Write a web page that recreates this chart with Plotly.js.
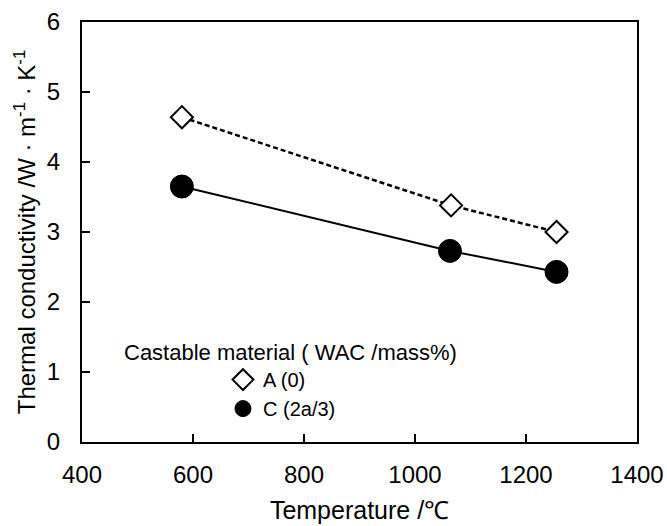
<!DOCTYPE html>
<html>
<head>
<meta charset="utf-8">
<script src="https://cdn.plot.ly/plotly-3.0.1.min.js"></script>
<style>html,body{margin:0;padding:0;background:#fff;}#chart{width:667px;height:526px;}</style>
</head>
<body>
<div id="chart"></div>
<script>
// Data
const tempA = [580, 1065, 1255];
const condA = [4.64, 3.38, 3.00];
const tempC = [580, 1063, 1255];
const condC = [3.65, 2.73, 2.43];
const nameA = 'A (0)';
const nameC = 'C (2a/3)';
const legendTitle = 'Castable material ( WAC /mass%)';
const xTitle = 'Temperature /℃';
const yTitle = 'Thermal conductivity /W · m<sup>-1</sup> · K<sup>-1</sup>';

const FONT = 'Liberation Sans, Arial, sans-serif';

const traces = [
  {x: tempA, y: condA, mode: 'lines', showlegend: false, hoverinfo: 'skip',
   line: {color: '#000', width: 2.5, dash: '5px,3px'}},
  {x: tempC, y: condC, mode: 'lines', showlegend: false, hoverinfo: 'skip',
   line: {color: '#000', width: 2}},
  {x: tempA, y: condA, mode: 'markers', name: nameA,
   marker: {symbol: 'diamond', size: 17, color: '#fff', line: {color: '#000', width: 2}}},
  {x: tempC, y: condC, mode: 'markers', name: nameC,
   marker: {symbol: 'circle', size: 23, color: '#000', line: {color: '#000', width: 1}}}
];

const layout = {
  width: 667, height: 526,
  margin: {l: 82, r: 30, t: 22, b: 84},
  paper_bgcolor: '#fff', plot_bgcolor: '#fff',
  font: {family: FONT, color: '#000', size: 20},
  showlegend: true,
  legend: {x: 0.254, xanchor: 'left', y: 0.195, yanchor: 'top',
           bgcolor: 'rgba(0,0,0,0)', font: {size: 20, family: FONT},
           tracegroupgap: 0, itemsizing: 'trace'},
  annotations: [{text: legendTitle, xref: 'paper', yref: 'paper',
                 x: 0.072, y: 0.214, xanchor: 'left', yanchor: 'middle',
                 showarrow: false, font: {size: 22, family: FONT}}],
  xaxis: {
    range: [400, 1400], dtick: 200, tick0: 400,
    showgrid: false, zeroline: false,
    showline: true, mirror: true, linecolor: '#000', linewidth: 2,
    ticks: 'inside', ticklen: 8, tickwidth: 1.5, tickcolor: '#000',
    tickfont: {size: 24, family: FONT}, ticklabelstandoff: 10,
    title: {text: xTitle, font: {size: 25, family: FONT}, standoff: 15}
  },
  yaxis: {
    range: [0, 6], dtick: 1, tick0: 0,
    showgrid: false, zeroline: false,
    showline: true, mirror: true, linecolor: '#000', linewidth: 2,
    ticks: 'inside', ticklen: 8, tickwidth: 1.5, tickcolor: '#000',
    tickfont: {size: 24, family: FONT}, ticklabelstandoff: 15,
    title: {text: yTitle, font: {size: 24, family: FONT}, standoff: 4}
  }
};

Plotly.newPlot('chart', traces, layout, {displayModeBar: false, staticPlot: true});
</script>
</body>
</html>
